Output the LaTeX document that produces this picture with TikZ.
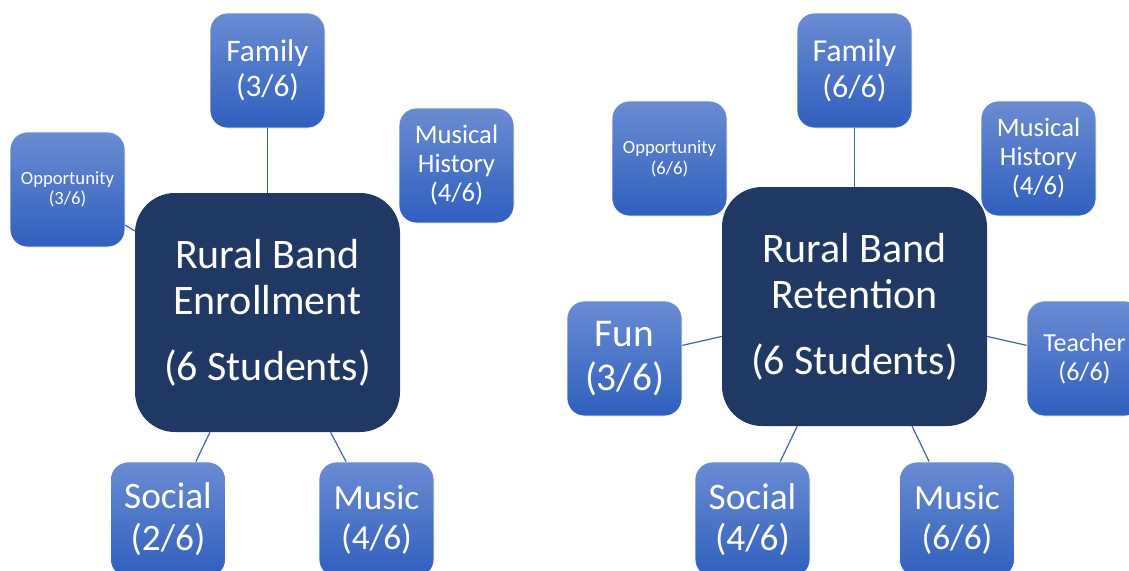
\documentclass[tikz,border=0pt]{standalone}
\usepackage{fontspec}
\setmainfont{Carlito}
\usetikzlibrary{positioning}
\definecolor{BandNavy}{HTML}{203864}
\definecolor{BandBlueTop}{HTML}{6A8CD2}
\definecolor{BandBlueBottom}{HTML}{2F5FBE}
\definecolor{BandLine}{HTML}{3F63AE}
\newcommand{\boxfont}[2]{\fontsize{#1}{#2}\selectfont}
\tikzset{
    hub/.style={
        fill=BandNavy,
        rounded corners=30pt,
        minimum width=198.75pt,
        minimum height=179.25pt,
        text=white,
        align=center,
        inner sep=0pt,
        font=\boxfont{31.5}{34.5}
    },
    leaf/.style={
        draw=white,
        line width=0.6pt,
        top color=BandBlueTop,
        bottom color=BandBlueBottom,
        rounded corners=13pt,
        minimum width=86.25pt,
        minimum height=86.25pt,
        text=white,
        align=center,
        inner sep=0pt,
        font=#1
    },
    link/.style={
        draw=BandLine,
        line width=0.9pt
    }
}

\begin{document}
\begin{tikzpicture}[x=0.75pt, y=-0.75pt]
    \useasboundingbox (0,0) rectangle (1129,571);
    \clip (0,0) rectangle (1129,571);

    % enrollment
    \node[hub] (enr) at (267.5,312.5) {Rural Band\\Enrollment\\[15pt](6 Students)};
    \node[leaf={\boxfont{23.5}{26.25}}] (enrFamily) at (267.5,70.5) {Family\\(3/6)};
    \node[leaf={\boxfont{20}{21.75}}] (enrHistory) at (456.5,165.5) {Musical\\History\\(4/6)};
    \node[leaf={\boxfont{14}{15}}] (enrOpp) at (67.5,189.5) {Opportunity\\(3/6)};
    \node[leaf={\boxfont{28}{31.5}}] (enrSocial) at (168,519.5) {Social\\(2/6)};
    \node[leaf={\boxfont{26.5}{30}}] (enrMusic) at (376.5,519.5) {Music\\(4/6)};

    \draw[link] (enrFamily) -- (enr);
    \draw[link] (enrOpp) -- (enr);
    \draw[link] (enrSocial) -- (enr);
    \draw[link] (enrMusic) -- (enr);

    % retention
    \node[hub] (ret) at (854.5,306.5) {Rural Band\\Retention\\[15pt](6 Students)};
    \node[leaf={\boxfont{24}{27}}] (retFamily) at (854.5,70.5) {Family\\(6/6)};
    \node[leaf={\boxfont{14}{15.75}}] (retOpp) at (669.5,158.5) {Opportunity\\(6/6)};
    \node[leaf={\boxfont{20}{21.75}}] (retHistory) at (1038.5,158.5) {Musical\\History\\(4/6)};
    \node[leaf={\boxfont{29.5}{33}}] (retFun) at (624.5,358.5) {Fun\\(3/6)};
    \node[leaf={\boxfont{19.5}{21.75}}] (retTeacher) at (1084.5,358.5) {Teacher\\(6/6)};
    \node[leaf={\boxfont{28}{30.75}}] (retSocial) at (752.5,519.5) {Social\\(4/6)};
    \node[leaf={\boxfont{26.5}{30}}] (retMusic) at (957,519.5) {Music\\(6/6)};

    \draw[link] (retFamily) -- (ret);
    \draw[link] (retFun) -- (ret);
    \draw[link] (retTeacher) -- (ret);
    \draw[link] (retSocial) -- (ret);
    \draw[link] (retMusic) -- (ret);
\end{tikzpicture}
\end{document}
